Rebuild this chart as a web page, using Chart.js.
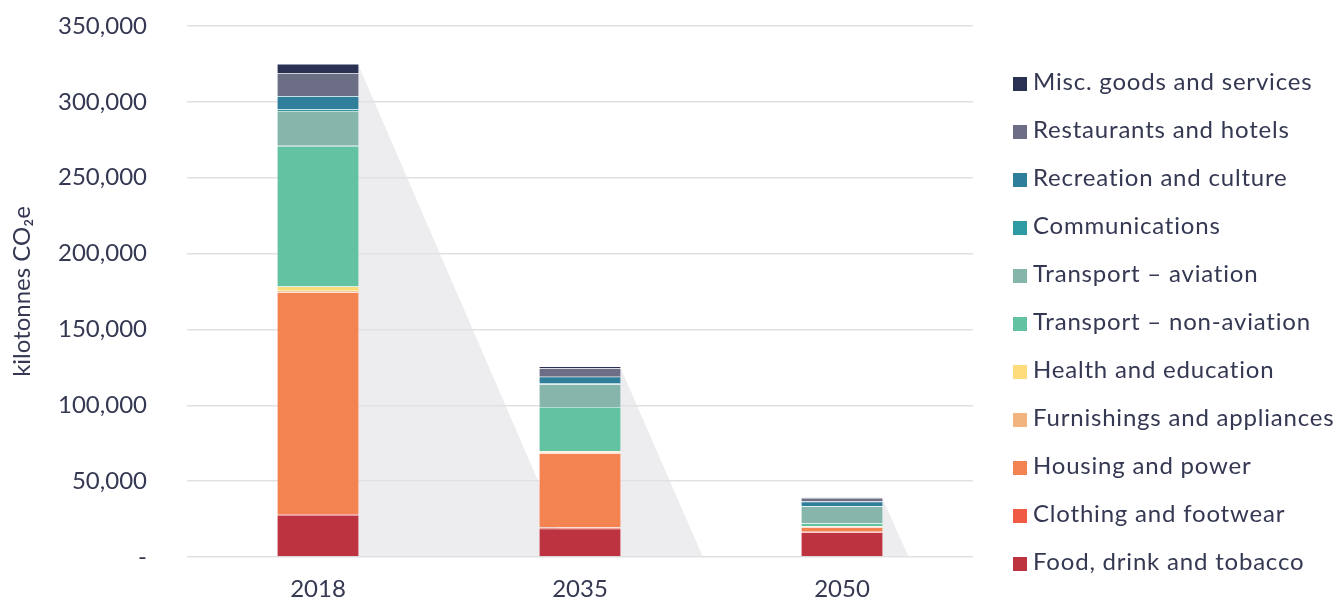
<!DOCTYPE html>
<html>
<head>
<meta charset="utf-8">
<script src="https://cdn.jsdelivr.net/npm/chart.js@4.4.1/dist/chart.umd.min.js"></script>
<style>
	html, body { margin: 0; padding: 0; background: #ffffff; }
	.chart-container { position: relative; width: 1340px; height: 601px; }
	.legend { position: absolute; left: 1013px; top: 57px; margin: 0; padding: 0; list-style: none; font-family: Lato, 'Open Sans', sans-serif; font-weight: 400; font-size: 24px; letter-spacing: 0.8px; color: #343852; }
	.legend li { height: 48px; line-height: 48px; white-space: nowrap; }
	.legend span { display: inline-block; width: 14px; height: 14px; margin-right: 6px; vertical-align: -1px; }
</style>
</head>
<body>
<div class="chart-container">
	<canvas id="chart"></canvas>
	<ul class="legend" id="legend"></ul>
</div>
<script>
const years = ['2018', '2035', '2050'];

// stacked bottom to top, kilotonnes CO2e
const food = [27700, 18700, 16300];
const clothing = [700, 700, 400];
const housing = [146100, 49000, 3000];
const furnishings = [1000, 600, 300];
const health = [2800, 700, 300];
const transportNonAviation = [92700, 29200, 2000];
const transportAviation = [23000, 15000, 11000];
const communications = [1000, 500, 300];
const recreation = [8800, 4400, 2900];
const restaurants = [14900, 5700, 2500];
const misc = [6300, 1100, 300];

const yTicks = [0, 50000, 100000, 150000, 200000, 250000, 300000, 350000];

const textColor = '#343852';
const fontFamily = 'Lato, "Open Sans", sans-serif';

const series = [
	{ label: 'Food, drink and tobacco', data: food, color: '#bd333f' },
	{ label: 'Clothing and footwear', data: clothing, color: '#ef5b45' },
	{ label: 'Housing and power', data: housing, color: '#f48352' },
	{ label: 'Furnishings and appliances', data: furnishings, color: '#f2b47f' },
	{ label: 'Health and education', data: health, color: '#fedb7b' },
	{ label: 'Transport \u2013 non-aviation', data: transportNonAviation, color: '#63c2a1' },
	{ label: 'Transport \u2013 aviation', data: transportAviation, color: '#86b5ab' },
	{ label: 'Communications', data: communications, color: '#2e9aa1' },
	{ label: 'Recreation and culture', data: recreation, color: '#2f7f9b' },
	{ label: 'Restaurants and hotels', data: restaurants, color: '#6c6e86' },
	{ label: 'Misc. goods and services', data: misc, color: '#2b3153' }
];

// grey wedge behind each bar, drawn through the scales
const shadowPlugin = {
	id: 'shadow',
	beforeDraw(chart) {
		const ctx = chart.ctx;
		const yScale = chart.scales.y;
		const topMeta = chart.getDatasetMeta(chart.data.datasets.length - 1);
		const base = yScale.getPixelForValue(0);

		ctx.save();
		ctx.fillStyle = '#ededf0';
		years.forEach((year, i) => {
			const total = chart.data.datasets.reduce((sum, ds) => sum + ds.data[i], 0);
			const bar = topMeta.data[i];
			const right = bar.x + bar.width / 2;
			const top = yScale.getPixelForValue(total);
			const run = (base - top) * 0.43;

			ctx.beginPath();
			ctx.moveTo(right - 1, top);
			ctx.lineTo(right + run, base);
			ctx.lineTo(right - 1, base);
			ctx.closePath();
			ctx.fill();
		});
		ctx.restore();
	}
};

const data = {
	labels: years,
	datasets: series.map(s => ({
		label: s.label,
		data: s.data,
		backgroundColor: s.color,
		borderColor: 'rgba(255, 255, 255, 0.3)',
		borderWidth: 0.6,
		categoryPercentage: 1,
		barPercentage: 0.313
	}))
};

const tickFont = { family: fontFamily, size: 24, weight: 400 };

const config = {
	type: 'bar',
	data: data,
	plugins: [shadowPlugin],
	options: {
		responsive: true,
		maintainAspectRatio: false,
		animation: false,
		layout: {
			padding: { left: 4, right: 367, top: 0, bottom: 0 }
		},
		plugins: {
			tooltip: { enabled: false },
			legend: { display: false }
		},
		scales: {
			x: {
				stacked: true,
				grid: { display: false },
				border: { display: false },
				afterFit: axis => { axis.height = 44; },
				ticks: {
					color: textColor,
					padding: 10,
					font: tickFont
				}
			},
			y: {
				stacked: true,
				min: 0,
				max: 350000,
				afterBuildTicks: axis => {
					axis.ticks = yTicks.map(v => ({ value: v }));
				},
				afterFit: axis => {
					axis.width = 183;
					axis.paddingTop = 26;
					axis.paddingBottom = 0;
				},
				grid: {
					color: '#e1e1e3',
					lineWidth: 1.5,
					drawTicks: false
				},
				border: { display: false },
				ticks: {
					color: textColor,
					padding: 40,
					font: tickFont,
					callback: v => (v === 0 ? '-' : v.toLocaleString('en-US'))
				},
				title: {
					display: true,
					text: 'kilotonnes CO\u2082e',
					color: textColor,
					padding: { top: 4, bottom: 0 },
					font: tickFont
				}
			}
		}
	}
};

new Chart(document.getElementById('chart').getContext('2d'), config);

const legend = document.getElementById('legend');
series.slice().reverse().forEach(s => {
	const li = document.createElement('li');
	const box = document.createElement('span');
	box.style.background = s.color;
	li.appendChild(box);
	li.appendChild(document.createTextNode(s.label));
	legend.appendChild(li);
});
</script>
</body>
</html>
